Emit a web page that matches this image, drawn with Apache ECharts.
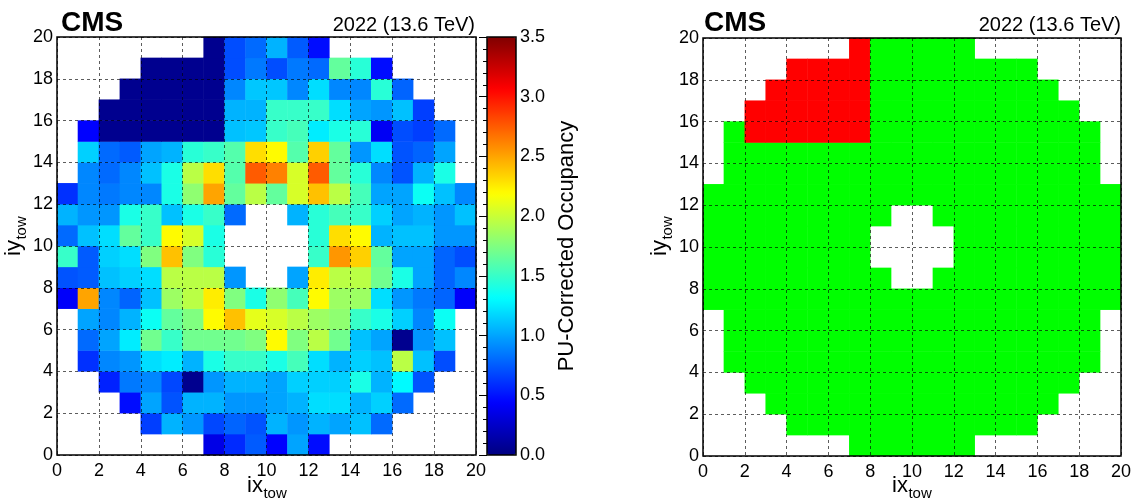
<!DOCTYPE html>
<html>
<head>
<meta charset="utf-8">
<script src="https://cdn.jsdelivr.net/npm/echarts@6/dist/echarts.min.js"></script>
<style>
html, body { margin: 0; padding: 0; background: #fff; }
#main { width: 1138px; height: 504px; }
</style>
</head>
<body>
<div id="main"></div>
<script>
var n = null

// tower index labels (ix and iy both run 0..19)
var towers = ['0','1','2','3','4','5','6','7','8','9','10','11','12','13','14','15','16','17','18','19']

// PU-corrected occupancy, one array per iy row, values for ix = 0..19 (null = no tower)
var occ19 = [n, n, n, n, n, n, n, 0.05, 0.7, 0.8, 1.05, 0.75, 0.48, n, n, n, n, n, n, n]
var occ18 = [n, n, n, n, 0.05, 0.05, 0.05, 0.05, 0.7, 0.85, 0.7, 0.85, 0.8, 1.65, 1.45, 0.48, n, n, n, n]
var occ17 = [n, n, n, 0.05, 0.05, 0.05, 0.05, 0.05, 0.9, 1.12, 1.12, 0.9, 1.2, 0.9, 0.9, 1.45, 0.78, n, n, n]
var occ16 = [n, n, 0.05, 0.05, 0.05, 0.05, 0.05, 0.05, 1.05, 1.05, 1.5, 1.5, 1.5, 1.2, 1.0, 0.95, 1.1, 0.65, n, n]
var occ15 = [n, 0.44, 0.05, 0.05, 0.05, 0.05, 0.05, 0.05, 1.1, 1.12, 1.5, 1.55, 1.25, 1.4, 1.45, 0.4, 0.7, 0.65, 0.8, n]
var occ14 = [n, 1.15, 0.8, 0.75, 1.0, 1.05, 1.45, 1.5, 1.6, 2.3, 2.2, 1.6, 2.35, 1.65, 0.95, 1.2, 0.72, 0.78, 1.0, n]
var occ13 = [n, 0.9, 0.8, 0.9, 1.1, 1.4, 1.95, 2.3, 1.6, 2.75, 2.62, 2.05, 2.75, 1.65, 1.45, 0.9, 0.72, 1.05, 1.4, n]
var occ12 = [0.6, 0.9, 0.85, 0.9, 0.9, 1.4, 1.8, 2.5, 1.65, 1.95, 1.65, 2.05, 2.4, 1.95, 1.55, 1.0, 1.0, 1.35, 1.1, 0.9]
var occ11 = [1.05, 0.95, 0.95, 1.4, 1.5, 1.1, 1.4, 1.5, 0.8, n, n, 1.05, 1.45, 1.55, 1.5, 1.15, 1.0, 1.05, 0.95, 1.1]
var occ10 = [0.8, 1.1, 1.2, 1.65, 1.5, 2.2, 2.05, 1.4, n, n, n, n, 1.45, 2.3, 2.2, 1.05, 1.1, 1.1, 0.95, 0.95]
var occ9 = [1.5, 0.75, 1.15, 1.2, 1.75, 2.4, 1.75, 1.45, n, n, n, n, 1.5, 2.55, 2.35, 1.65, 1.0, 1.0, 0.78, 0.7]
var occ8 = [0.72, 0.75, 1.1, 1.15, 1.2, 1.95, 1.95, 1.95, 0.95, n, n, 1.0, 2.25, 1.95, 1.95, 1.7, 1.4, 1.0, 0.78, 0.9]
var occ7 = [0.42, 2.5, 0.9, 0.78, 1.1, 1.85, 1.95, 2.25, 1.75, 1.4, 1.8, 1.55, 2.2, 1.85, 1.85, 1.2, 0.95, 0.85, 0.78, 0.42]
var occ6 = [n, 1.0, 0.9, 1.05, 1.35, 1.65, 1.75, 2.2, 2.4, 2.1, 2.05, 1.95, 1.85, 1.8, 1.5, 1.4, 1.15, 0.9, 1.35, n]
var occ5 = [n, 0.8, 1.0, 1.25, 1.7, 1.5, 1.7, 1.7, 1.7, 1.75, 2.2, 1.75, 1.95, 1.7, 1.1, 1.0, 0.05, 0.95, 1.1, n]
var occ4 = [n, 0.6, 0.9, 0.95, 1.2, 1.25, 1.05, 1.4, 1.5, 1.5, 1.4, 1.55, 1.2, 1.05, 1.15, 1.1, 1.95, 1.1, 0.7, n]
var occ3 = [n, n, 0.55, 0.85, 0.9, 0.68, 0.05, 0.95, 1.05, 1.05, 1.0, 1.15, 1.15, 1.15, 1.4, 1.05, 1.3, 0.72, n, n]
var occ2 = [n, n, n, 0.48, 1.0, 0.72, 1.05, 1.05, 0.95, 0.95, 1.0, 1.05, 1.2, 1.2, 1.05, 1.15, 0.8, n, n, n]
var occ1 = [n, n, n, n, 0.65, 1.05, 0.95, 0.68, 0.78, 0.72, 1.05, 0.95, 1.05, 1.0, 1.1, 0.8, n, n, n, n]
var occ0 = [n, n, n, n, n, n, n, 0.35, 0.58, 0.75, 0.44, 1.0, 0.48, n, n, n, n, n, n, n]
var occRows = [occ0, occ1, occ2, occ3, occ4, occ5, occ6, occ7, occ8, occ9,
               occ10, occ11, occ12, occ13, occ14, occ15, occ16, occ17, occ18, occ19]

// masked (red) region of the right map: for each iy, ix from..to
var maskIy = [19, 18, 17, 16, 15]
var maskFrom = [7, 4, 3, 2, 2]
var maskTo = [7, 7, 7, 7, 7]

// colour bar scale
var zMin = 0, zMax = 3.5, zStep = 0.5
var jet = ['#000080', '#0000ff', '#0080ff', '#00ffff', '#80ff80', '#ffff00', '#ff8000', '#ff0000', '#800000']

function isMasked(ix, iy) {
    var k = maskIy.indexOf(iy)
    return k >= 0 && ix >= maskFrom[k] && ix <= maskTo[k]
}

var occData = [], statusData = []
occRows.forEach(function (row, iy) {
    row.forEach(function (v, ix) {
        if (v === null) return
        occData.push([ix, iy, v])
        statusData.push([ix, iy, isMasked(ix, iy) ? 1 : 0])
    })
})

var font = '"Liberation Sans", Arial, Helvetica, sans-serif'
var dash = { color: '#000', width: 0.8, type: [3, 3], opacity: 0.8 }
var tickLabel = { fontSize: 18, color: '#000', fontFamily: font }

// width of a text, used to place the subscript after the main part of axis titles
var measure = document.createElement('canvas').getContext('2d')
function textWidth(txt, css) {
    measure.font = css
    return measure.measureText(txt).width
}

function gridBox(left, top, w, h) {
    return { left: left, top: top, width: w, height: h, show: true, z: 10,
             backgroundColor: 'transparent', borderColor: '#000', borderWidth: 1.5,
             containLabel: false, outerBoundsMode: 'none' }
}
function catAxis(g) {
    return { type: 'category', gridIndex: g, data: towers, show: false }
}
function valAxis(g, pos, margin) {
    return { type: 'value', gridIndex: g, min: 0, max: 20, interval: 2, position: pos, z: 5,
             axisLine: { show: false }, axisTick: { show: false },
             axisLabel: Object.assign({ margin: margin }, tickLabel),
             splitLine: { show: true, lineStyle: dash } }
}
// axis title like "ix" with subscript "tow"; (x, y) = start of the text, on its middle line
function subTitle(txt, x, y, rot) {
    var mainCss = '22px ' + font, subCss = '15px ' + font
    var w = textWidth(txt, mainCss)
    return { type: 'group', x: x, y: y, rotation: rot, children: [
        { type: 'text', x: 0, y: 0,
          style: { text: txt, fill: '#000', font: mainCss, textAlign: 'left', textVerticalAlign: 'middle' } },
        { type: 'text', x: w + 0.5, y: 8,
          style: { text: 'tow', fill: '#000', font: subCss, textAlign: 'left', textVerticalAlign: 'middle' } }
    ] }
}
function plainText(txt, x, y, size, bold, align) {
    return { type: 'text', x: x, y: y,
             style: { text: txt, fill: '#000', font: (bold ? 'bold ' : '') + size + 'px ' + font,
                      textAlign: align, textVerticalAlign: 'middle' } }
}

var chart = echarts.init(document.getElementById('main'))
var option = {
    animation: false,
    backgroundColor: '#fff',
    grid: [
        gridBox(57, 37, 419, 418),
        gridBox(487, 37, 29, 418),
        gridBox(703, 38, 418, 418)
    ],
    xAxis: [
        catAxis(0),
        valAxis(0, 'bottom', 7),
        { type: 'value', gridIndex: 1, show: false },
        catAxis(2),
        valAxis(2, 'bottom', 7)
    ],
    yAxis: [
        catAxis(0),
        valAxis(0, 'left', 4),
        { type: 'value', gridIndex: 1, min: zMin, max: zMax, interval: zStep, position: 'right', z: 11,
          axisLine: { show: false },
          axisTick: { show: true, inside: true, length: 8, lineStyle: { color: '#000' } },
          minorTick: { show: true, splitNumber: 5, length: 4, lineStyle: { color: '#000' } },
          axisLabel: Object.assign({ margin: 4, formatter: function (v) { return v.toFixed(1) } }, tickLabel),
          splitLine: { show: false } },
        catAxis(2),
        valAxis(2, 'left', 4)
    ],
    visualMap: [
        { type: 'continuous', seriesIndex: 0, min: zMin, max: zMax, left: 487, top: 37,
          itemWidth: 29, itemHeight: 418, padding: 0, calculable: false, hoverLink: false,
          inRange: { color: jet } },
        { type: 'piecewise', seriesIndex: 1, show: false,
          pieces: [{ min: -0.5, max: 0.5, color: '#00ff00' }, { min: 0.5, max: 1.5, color: '#ff0000' }] }
    ],
    graphic: [
        plainText('CMS', 61, 23, 28, true, 'left'),
        plainText('2022 (13.6 TeV)', 475, 25, 20, false, 'right'),
        plainText('CMS', 704, 23, 28, true, 'left'),
        plainText('2022 (13.6 TeV)', 1121, 25, 20, false, 'right'),
        subTitle('ix', 247, 486, 0),
        subTitle('ix', 892, 486, 0),
        subTitle('iy', 14, 256, Math.PI / 2),
        subTitle('iy', 660, 256, Math.PI / 2),
        { type: 'text', x: 567, y: 246, rotation: Math.PI / 2,
          style: { text: 'PU-Corrected Occupancy', fill: '#000', font: '22px ' + font,
                   textAlign: 'center', textVerticalAlign: 'middle' } }
    ],
    series: [
        { type: 'heatmap', xAxisIndex: 0, yAxisIndex: 0, data: occData,
          itemStyle: { borderWidth: 0 }, emphasis: { disabled: true } },
        { type: 'heatmap', xAxisIndex: 3, yAxisIndex: 3, data: statusData,
          itemStyle: { borderWidth: 0 }, emphasis: { disabled: true } }
    ]
}
chart.setOption(option)
</script>
</body>
</html>
